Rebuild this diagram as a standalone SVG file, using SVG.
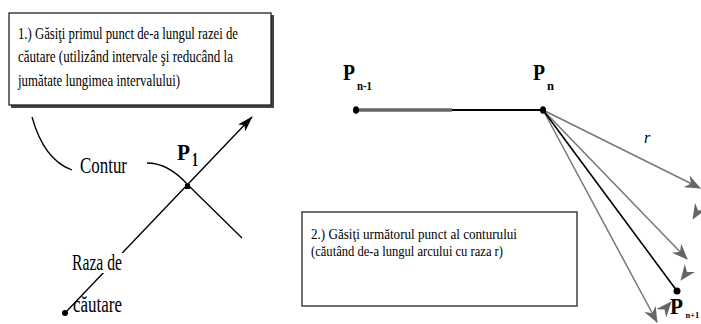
<svg xmlns="http://www.w3.org/2000/svg" width="701" height="324" viewBox="0 0 701 324">
<style>
.t{font-family:"Liberation Serif","Times New Roman",serif;fill:#000;}
.box{font-size:16.5px;}
.box2{font-size:14.5px;}
.lbl{font-size:23px;}
.p{font-size:24px;font-weight:bold;}
.sub{font-size:13px;font-weight:bold;}
.ray{stroke:#777;stroke-width:1.5;fill:none;}
</style>
<defs>
<marker id="blk" markerWidth="16" markerHeight="10" refX="15" refY="5" orient="auto" markerUnits="userSpaceOnUse">
<path d="M0,0 L16,5 L0,10 L4,5 Z" fill="#000"/>
</marker>
<marker id="gry" markerWidth="16" markerHeight="13" refX="15" refY="6.5" orient="auto" markerUnits="userSpaceOnUse">
<path d="M0,0 L16,6.5 L0,13 L5,6.5 Z" fill="#666"/>
</marker>
</defs>
<rect width="701" height="324" fill="#fff"/>

<g id="box1">
<rect x="11" y="15" width="263" height="93" fill="#444"/>
<rect x="9" y="13" width="262" height="92" fill="#fff" stroke="#222" stroke-width="1.3"/>
<text class="t box" x="18" y="39" textLength="220" lengthAdjust="spacingAndGlyphs">1.) Găsiţi primul punct de-a lungul razei de</text>
<text class="t box" x="18" y="62" textLength="215" lengthAdjust="spacingAndGlyphs">căutare (utilizând intervale şi reducând la</text>
<text class="t box" x="18" y="86" textLength="162" lengthAdjust="spacingAndGlyphs">jumătate lungimea intervalului)</text>
</g>

<g id="box2">
<rect x="302" y="212" width="275" height="94" fill="#fff" stroke="#333" stroke-width="1.4"/>
<text class="t box2" x="311" y="239" textLength="206" lengthAdjust="spacingAndGlyphs">2.) Găsiţi următorul punct al conturului</text>
<text class="t box2" x="311" y="256" textLength="192" lengthAdjust="spacingAndGlyphs">(căutând de-a lungul arcului cu raza r)</text>
</g>

<g id="connectors">
<path d="M32,117 Q44,160 72,170" fill="none" stroke="#000" stroke-width="1.3"/>
<path d="M147,163 C165,163 180,176 188,185 L242,238" fill="none" stroke="#000" stroke-width="1.3"/>
<line x1="65" y1="313" x2="252" y2="117" stroke="#000" stroke-width="1.4" marker-end="url(#blk)"/>
<line x1="356" y1="110" x2="452" y2="110" stroke="#666" stroke-width="3.5"/>
<line x1="452" y1="110" x2="543" y2="110" stroke="#000" stroke-width="2.2"/>
<line class="ray" x1="543" y1="110" x2="700" y2="188" marker-end="url(#gry)"/>
<line class="ray" x1="543" y1="110" x2="687" y2="259" marker-end="url(#gry)"/>
<line class="ray" x1="543" y1="110" x2="657" y2="322" marker-end="url(#gry)"/>
<line x1="543" y1="110" x2="677" y2="291" stroke="#000" stroke-width="1.6"/>
<line x1="703" y1="202" x2="693" y2="219" stroke="none" marker-end="url(#gry)"/>
<line x1="693" y1="264" x2="681" y2="280" stroke="none" marker-end="url(#gry)"/>
<line x1="659" y1="316" x2="671" y2="302" stroke="none" marker-end="url(#gry)"/>
</g>

<g id="contur">
<text class="t lbl" x="80" y="173" textLength="47" lengthAdjust="spacingAndGlyphs">Contur</text>
</g>

<g id="raza">
<rect x="70" y="253" width="54" height="20" fill="#fff"/>
<text class="t lbl" x="72" y="270" textLength="50" lengthAdjust="spacingAndGlyphs">Raza de</text>
<text class="t lbl" x="73" y="312" textLength="49" lengthAdjust="spacingAndGlyphs">căutare</text>
<circle cx="65" cy="313" r="3" fill="#000"/>
</g>

<g id="P1">
<rect x="185" y="184" width="5" height="5" fill="#000"/>
<text class="t p" x="177" y="160" textLength="13" lengthAdjust="spacingAndGlyphs">P</text>
<text class="t" x="192" y="166" font-size="18" font-weight="bold" textLength="6" lengthAdjust="spacingAndGlyphs">1</text>
</g>

<g id="Pn-1">
<ellipse cx="356" cy="110" rx="3" ry="3.8" fill="#000"/>
<text class="t p" x="343" y="80" textLength="12" lengthAdjust="spacingAndGlyphs">P</text>
<text class="t sub" x="357" y="90" textLength="15" lengthAdjust="spacingAndGlyphs">n-1</text>
</g>

<g id="Pn">
<ellipse cx="543" cy="110" rx="3" ry="3.8" fill="#000"/>
<text class="t p" x="533" y="80" textLength="12" lengthAdjust="spacingAndGlyphs">P</text>
<text class="t sub" x="547" y="90" textLength="7" lengthAdjust="spacingAndGlyphs">n</text>
</g>

<g id="r">
<text class="t" x="644" y="143" font-size="16" font-style="italic">r</text>
</g>

<g id="Pn1">
<circle cx="677" cy="291" r="3.5" fill="#000"/>
<text class="t p" x="670" y="314" textLength="13" lengthAdjust="spacingAndGlyphs">P</text>
<text class="t" x="685.5" y="318" font-size="8.5" font-weight="bold">n+1</text>
</g>
</svg>
